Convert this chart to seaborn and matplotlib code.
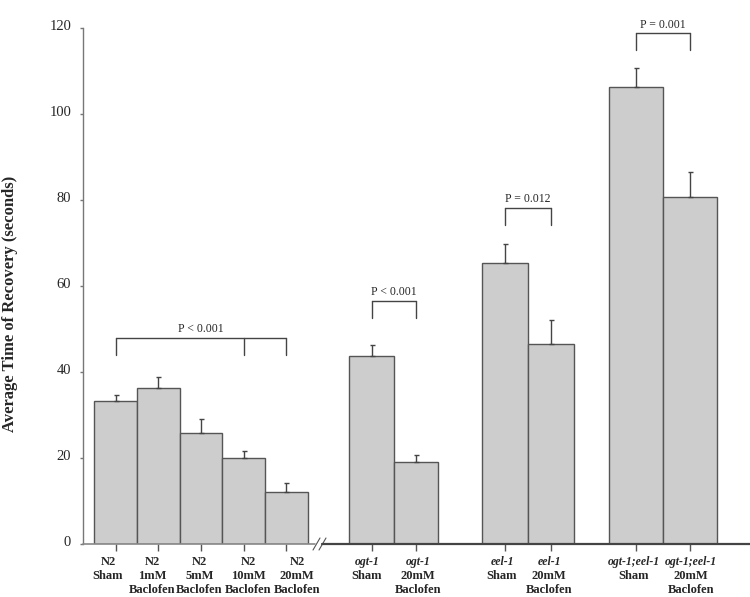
import seaborn as sns
import pandas as pd
import matplotlib.pyplot as plt
from matplotlib.transforms import ScaledTranslation

# data
strain = ['N2', 'N2', 'N2', 'N2', 'N2', 'ogt-1', 'ogt-1', 'eel-1', 'eel-1',
          'ogt-1;eel-1', 'ogt-1;eel-1']
treatment = ['Sham', '1mM\nBaclofen', '5mM\nBaclofen', '10mM\nBaclofen', '20mM\nBaclofen',
             'Sham', '20mM\nBaclofen', 'Sham', '20mM\nBaclofen', 'Sham', '20mM\nBaclofen']
recovery = [33.3, 36.2, 25.8, 20.1, 12.2, 43.8, 19.1, 65.3, 46.4, 106.2, 80.7]
sem = [1.4, 2.6, 3.2, 1.6, 1.9, 2.5, 1.6, 4.5, 5.7, 4.6, 5.8]

# significance brackets: bars joined, bracket height, label
brackets = [([0, 3, 4], 48.0, 'P < 0.001'),
            ([5, 6], 56.5, 'P < 0.001'),
            ([7, 8], 78.2, 'P = 0.012'),
            ([9, 10], 118.8, 'P = 0.001')]

# layout (x axis in pixel-like units)
bar_pos = [115.7, 158.3, 201.0, 243.7, 286.2, 371.5, 415.7, 505.0, 551.3, 636.0, 689.8]
bar_w = [42.7, 42.7, 42.7, 42.7, 42.7, 44.3, 44.0, 46.6, 46.0, 54.0, 53.7]
label_pos = [108, 152.5, 199.5, 248, 297, 367, 418, 502, 549, 634, 691]

df = pd.DataFrame({'pos': bar_pos, 'recovery': recovery, 'sem': sem})

sns.set_style("white")
plt.rcParams['font.family'] = ['Liberation Serif', 'DejaVu Serif']

fig = plt.figure(figsize=(7.5, 5.97), dpi=100)
ax = fig.add_axes([83 / 750, 1 - 544 / 597, 667 / 750, 516 / 597])

sns.barplot(data=df, x='pos', y='recovery', native_scale=True, color='#cdcdcd',
            saturation=1, edgecolor='#555555', linewidth=1, errorbar=None, ax=ax)
for p, c, w in zip(ax.patches, bar_pos, bar_w):
    p.set_x(c - w / 2)
    p.set_width(w)

ax.errorbar(bar_pos, recovery, yerr=[[0] * len(sem), sem], fmt='none',
            ecolor='#444444', elinewidth=1, capsize=1.8, capthick=1)

ax.set_xlim(83, 750)
ax.set_ylim(0, 120)
ax.set_yticks(range(0, 121, 20))
ax.tick_params(axis='y', direction='out', length=2, width=1, color='#777777',
               labelsize=10.5, pad=6.5, left=True)
for lab in ax.get_yticklabels():
    lab.set_transform(lab.get_transform() + ScaledTranslation(0, 0.03, fig.dpi_scale_trans))
ax.set_xticks(bar_pos)
ax.set_xticklabels([])
ax.tick_params(axis='x', direction='out', length=5, width=1, color='#555555', bottom=True)
ax.set_xlabel('')
ax.set_ylabel('Average Time of Recovery (seconds)', fontsize=12, fontweight='bold')
ax.yaxis.set_label_coords(-65 / 667, 0.465)

for s in ['top', 'right', 'bottom']:
    ax.spines[s].set_visible(False)
ax.spines['left'].set_color('#777777')
ax.spines['left'].set_linewidth(1)

# broken x axis
ax.plot([83, 315], [0, 0], color='#888888', lw=1.2, clip_on=False, zorder=3)
ax.plot([322, 750], [0, 0], color='#444444', lw=1.6, clip_on=False, zorder=3)
ax.plot([313, 320], [-1.4, 1.4], color='#555555', lw=0.8, clip_on=False)
ax.plot([319, 326], [-1.4, 1.4], color='#555555', lw=0.8, clip_on=False)

# category labels under each bar
for c, s, t in zip(label_pos, strain, treatment):
    lines = [s] + t.split('\n')
    for j, line in enumerate(lines):
        italic = j == 0 and s != 'N2'
        ax.annotate(line, xy=(c, 0), xycoords=('data', 'axes fraction'),
                    xytext=(0, -(18 + 14 * j) / 1.389), textcoords='offset points',
                    ha='center', va='center', fontsize=8.5 if italic else 9,
                    fontweight='bold', fontstyle='italic' if italic else 'normal',
                    annotation_clip=False)

# significance brackets
for idx, h, label in brackets:
    xs = [bar_pos[i] for i in idx]
    ax.plot([xs[0], xs[-1]], [h, h], color='#444444', lw=1, clip_on=False)
    for x in xs:
        ax.plot([x, x], [h, h - 4.0], color='#444444', lw=1, clip_on=False)
    ax.text((xs[0] + xs[-1]) / 2, h + 2.0, label, ha='center', va='center',
            fontsize=8.5, clip_on=False)

plt.savefig("out.png", dpi=100)
